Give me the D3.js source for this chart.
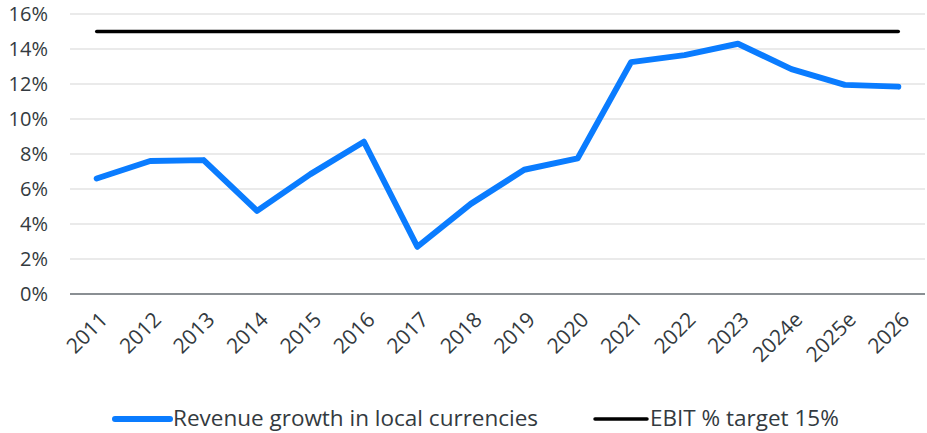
<!DOCTYPE html>
<html>
<head>
<meta charset="utf-8">
<script src="https://cdn.jsdelivr.net/npm/d3@7"></script>
<style>
  body { margin: 0; background: #fff; }
  text { font-family: "Open Sans", sans-serif; fill: #333a40; }
</style>
</head>
<body>
<script>
const years = ["2011", "2012", "2013", "2014", "2015", "2016", "2017", "2018",
  "2019", "2020", "2021", "2022", "2023", "2024e", "2025e", "2026"];
const revenueGrowth = [6.6, 7.6, 7.65, 4.75, 6.85, 8.7, 2.7, 5.15,
  7.1, 7.75, 13.25, 13.65, 14.3, 12.85, 11.95, 11.85];
const ebitTarget = [15, 15, 15, 15, 15, 15, 15, 15, 15, 15, 15, 15, 15, 15, 15, 15];
const yTicks = [0, 2, 4, 6, 8, 10, 12, 14, 16];

const W = 927, H = 433;
const margin = { top: 14, right: 2, bottom: 139, left: 70 };
const font = "'Open Sans', sans-serif";

const svg = d3.select("body").append("svg").attr("width", W).attr("height", H);

const x = d3.scalePoint().domain(years)
  .range([margin.left, W - margin.right]).padding(0.5);
const y = d3.scaleLinear().domain([0, 16]).range([H - margin.bottom, margin.top]);

// grid
svg.append("g").selectAll("line").data(yTicks.filter(d => d > 0)).enter().append("line")
  .attr("x1", margin.left).attr("x2", W - margin.right)
  .attr("y1", d => y(d)).attr("y2", d => y(d))
  .attr("stroke", "#e3e3e3").attr("stroke-width", 1.5);

// y axis labels
const yAxis = svg.append("g").attr("transform", `translate(${margin.left - 22},0)`)
  .call(d3.axisLeft(y).tickValues(yTicks).tickFormat(d => d + "%").tickSize(0).tickPadding(0));
yAxis.select(".domain").remove();
yAxis.selectAll("text").attr("font-size", 20).style("font-family", font).attr("fill", "#333a40");

// baseline
svg.append("line")
  .attr("x1", margin.left).attr("x2", W - margin.right)
  .attr("y1", y(0)).attr("y2", y(0))
  .attr("stroke", "#8a8f93").attr("stroke-width", 2);

// x axis labels
const xAxis = svg.append("g").attr("transform", `translate(0,${y(0) + 18})`)
  .call(d3.axisBottom(x).tickSize(0).tickPadding(0));
xAxis.select(".domain").remove();
xAxis.selectAll("text")
  .attr("font-size", 21).style("font-family", font).attr("fill", "#333a40")
  .attr("text-anchor", "end").attr("dy", "0.7em").attr("dx", "0.1em")
  .attr("transform", "rotate(-45)");

const line = d3.line().x((d, i) => x(years[i])).y(d => y(d));

svg.append("path").datum(ebitTarget)
  .attr("d", line).attr("fill", "none")
  .attr("stroke", "#000").attr("stroke-width", 3.5).attr("stroke-linecap", "round");

svg.append("path").datum(revenueGrowth)
  .attr("d", line).attr("fill", "none")
  .attr("stroke", "#0a7cff").attr("stroke-width", 6)
  .attr("stroke-linecap", "round").attr("stroke-linejoin", "round");

// legend
const legendItems = [
  { label: "Revenue growth in local currencies", color: "#0a7cff", width: 6, x: 115, len: 55 },
  { label: "EBIT % target 15%", color: "#000", width: 3.5, x: 595, len: 52 }
];
const lg = svg.append("g").selectAll("g").data(legendItems).enter().append("g")
  .attr("transform", d => `translate(${d.x},419)`);
lg.append("line").attr("x1", 0).attr("x2", d => d.len)
  .attr("stroke", d => d.color).attr("stroke-width", d => d.width).attr("stroke-linecap", "round");
lg.append("text").attr("x", d => d.len + 3).attr("dy", "0.33em").attr("font-size", 22.5)
  .style("font-family", font).text(d => d.label);
</script>
</body>
</html>
